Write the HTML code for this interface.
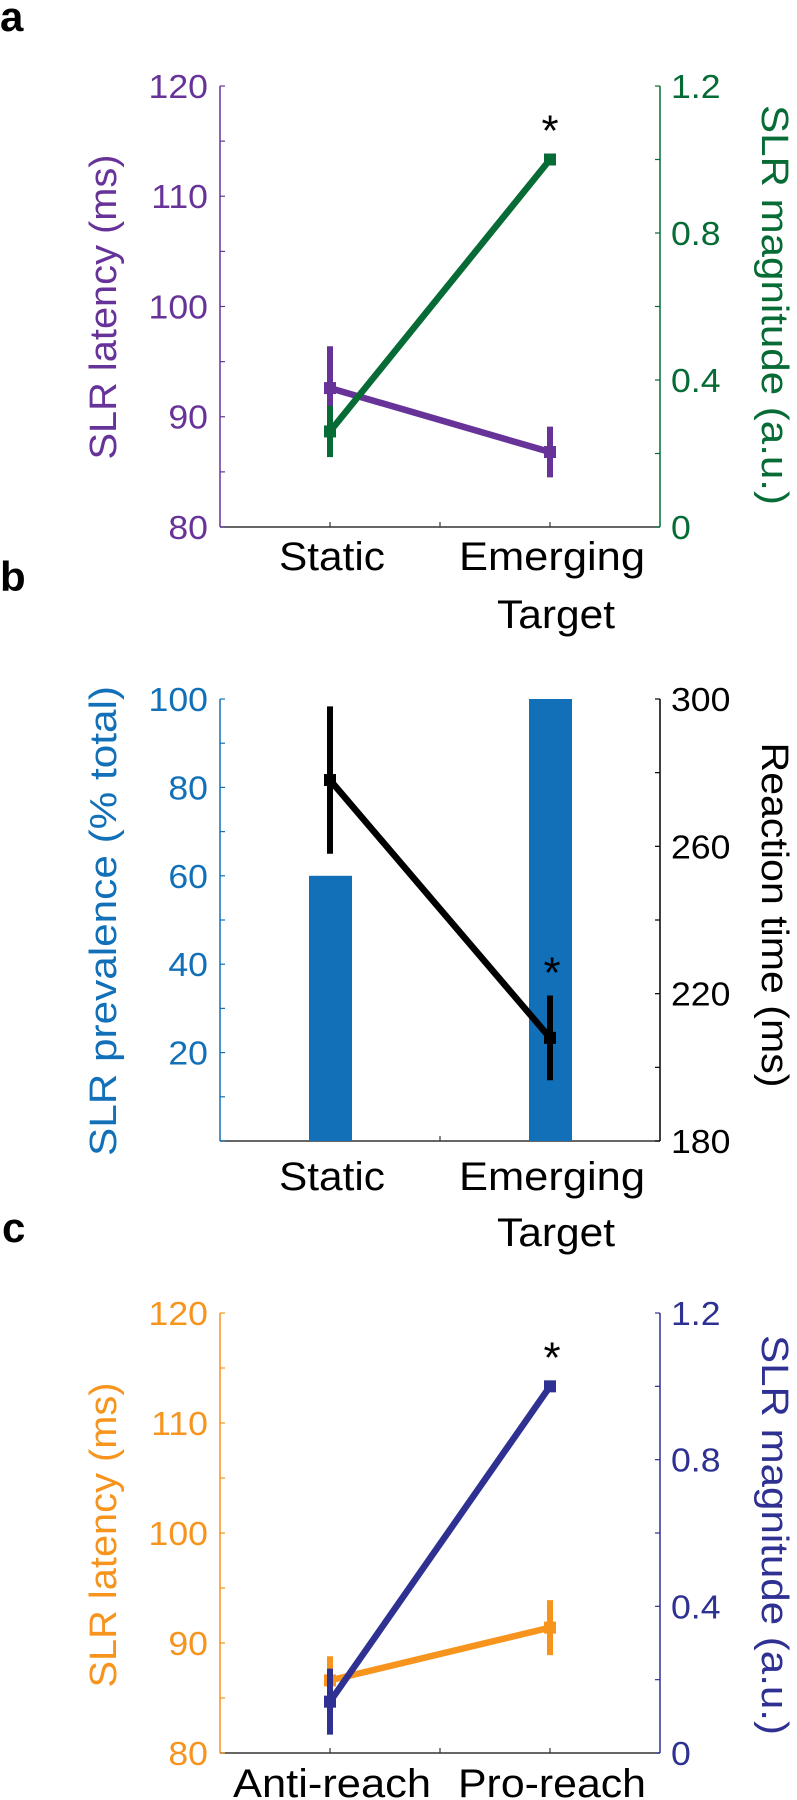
<!DOCTYPE html>
<html><head><meta charset="utf-8"><style>
html,body{margin:0;padding:0;background:#fff;}
svg{display:block;font-family:"Liberation Sans",sans-serif;}
</style></head><body>
<svg id="fig" width="797" height="1800" viewBox="0 0 797 1800" xmlns="http://www.w3.org/2000/svg">
<text x="0" y="31" font-size="42" font-weight="bold">a</text>
<text x="0" y="591" font-size="42" font-weight="bold">b</text>
<text x="2" y="1242" font-size="42" font-weight="bold">c</text>
</svg>
<script>
// ---- data ----
const catsAB = ["Static", "Emerging"];
const catsC = ["Anti-reach", "Pro-reach"];
const aLatency = [92.6, 86.8];
const aLatencyErr = [3.8, 2.3];
const aMagnitude = [0.26, 1.0];
const aMagnitudeErr = [0.07, 0.01];
const bPrevalence = [60, 100];
const bRT = [278, 208];
const bRTErr = [20, 11.5];
const cLatency = [86.6, 91.4];
const cLatencyErr = [2.2, 2.5];
const cMagnitude = [0.14, 1.0];
const cMagnitudeErr = [0.09, 0.01];
const latencyTicks = [80, 90, 100, 110, 120];
const magnitudeTicks = [0, 0.4, 0.8, 1.2];
const prevalenceTicks = [20, 40, 60, 80, 100];
const rtTicks = [180, 220, 260, 300];

const svg = document.getElementById('fig');
const NS = 'http://www.w3.org/2000/svg';
function mk(tag, attrs, parent) {
  const e = document.createElementNS(NS, tag);
  for (const k in attrs) e.setAttribute(k, attrs[k]);
  (parent || svg).appendChild(e);
  return e;
}
const X0 = 220, X1 = 660;
const xCat = i => 330 + i * 220;

function axes(top, bot, lMin, lMax, lMinor, lTicks, lCol, rMin, rMax, rMinor, rTicks, rCol, lTitle, rTitle, name) {
  const g = mk('g', {});
  
  
  const yl = v => bot - (v - lMin) / (lMax - lMin) * (bot - top);
  const yr = v => bot - (v - rMin) / (rMax - rMin) * (bot - top);
  mk('line', {x1: X0, y1: top, x2: X0, y2: bot, stroke: lCol, 'stroke-width': 1.5}, g);
  mk('line', {x1: X1, y1: top, x2: X1, y2: bot, stroke: rCol, 'stroke-width': 1.5}, g);
  mk('line', {x1: X0, y1: bot, x2: X1, y2: bot, stroke: '#333', 'stroke-width': 1.5}, g);
  [330, 440, 550].forEach(x => mk('line', {x1: x, y1: bot, x2: x, y2: bot - 5, stroke: '#333', 'stroke-width': 1.2}, g));
  for (let v = lMin; v <= lMax + 1e-9; v += lMinor) mk('line', {x1: X0, y1: yl(v), x2: X0 + 5, y2: yl(v), stroke: lCol, 'stroke-width': 1.2}, g);
  for (let v = rMin; v <= rMax + 1e-9; v += rMinor) mk('line', {x1: X1, y1: yr(v), x2: X1 - 5, y2: yr(v), stroke: rCol, 'stroke-width': 1.2}, g);
  lTicks.forEach(v => {
    const t = mk('text', {x: 208, y: yl(v) + 12, 'text-anchor': 'end', 'font-size': 33, fill: lCol, transform: `translate(208 0) scale(1.08 1) translate(-208 0)`}, g);
    t.textContent = v;
    
    
  });
  rTicks.forEach(v => {
    const t = mk('text', {x: 671, y: yr(v) + 12, 'font-size': 33, fill: rCol, transform: `translate(671 0) scale(1.08 1) translate(-671 0)`}, g);
    t.textContent = v;
    
    
  });
  const lt = mk('text', {x: 0, y: 0, 'text-anchor': 'middle', 'font-size': 38, fill: lCol, transform: `translate(116 ${lTitle[1]}) rotate(-90)`, textLength: lTitle[2], lengthAdjust: 'spacingAndGlyphs'}, g);
  lt.textContent = lTitle[0];
  
  
  const rt = mk('text', {x: 0, y: 0, 'text-anchor': 'middle', 'font-size': 38, fill: rCol, transform: `translate(762 ${rTitle[1]}) rotate(90)`, textLength: rTitle[2], lengthAdjust: 'spacingAndGlyphs'}, g);
  rt.textContent = rTitle[0];
  
  
  return {yl, yr};
}

function series(vals, errs, yf, col, name) {
  const g = mk('g', {});
  
  
  mk('line', {x1: xCat(0), y1: yf(vals[0]), x2: xCat(1), y2: yf(vals[1]), stroke: col, 'stroke-width': 6.5}, g);
  vals.forEach((v, i) => {
    mk('line', {x1: xCat(i), y1: yf(v + errs[i]), x2: xCat(i), y2: yf(v - errs[i]), stroke: col, 'stroke-width': 6}, g);
    mk('rect', {x: xCat(i) - 6, y: yf(v) - 6, width: 12, height: 12, fill: col}, g);
  });
}

function xlabels(cats, baseline, second, name) {
  cats.forEach((c, i) => {
    const t = mk('text', {x: xCat(i) + 2, y: baseline, 'text-anchor': 'middle', 'font-size': 40, fill: '#000', lengthAdjust: 'spacingAndGlyphs'});
    t.setAttribute('textLength', {Static: 106, Emerging: 186, 'Anti-reach': 198, 'Pro-reach': 188}[c]);
    t.textContent = c;
    
    
  });
  if (second) {
    const t = mk('text', {x: 556, y: second, 'text-anchor': 'middle', 'font-size': 40, fill: '#000', textLength: 118, lengthAdjust: 'spacingAndGlyphs'});
    t.textContent = 'Target';
    
    
  }
}
function star(x, y, name) {
  const t = mk('text', {x: x, y: y + 22, 'text-anchor': 'middle', 'font-size': 44, fill: '#000'});
  t.textContent = '*';
  
  
}

// Panel a
const PUR = '#673399', GRN = '#066b35';
const A = axes(86, 527, 80, 120, 5, latencyTicks, PUR, 0, 1.2, 0.2, magnitudeTicks, GRN,
  ['SLR latency (ms)', 307, 305], ['SLR magnitude (a.u.)', 305, 400], 'panel-a');
series(aLatency, aLatencyErr, A.yl, PUR, 'latency-series-a');
series(aMagnitude, aMagnitudeErr, A.yr, GRN, 'magnitude-series-a');
star(550, A.yr(aMagnitude[1]) - 36, 'significance-star-a');
xlabels(catsAB, 570, 628, 'panel-a');

// Panel b
const BLU = '#1170b8';
const B = axes(699, 1141, 0, 100, 10, prevalenceTicks, BLU, 180, 300, 20, rtTicks, '#000',
  ['SLR  prevalence (% total)', 921, 470], ['Reaction time (ms)', 915, 345], 'panel-b');
bPrevalence.forEach((v, i) => {
  const r = mk('rect', {x: xCat(i) - 21, y: B.yl(v), width: 43, height: B.yl(0) - B.yl(v), fill: BLU});
  
  
});
series(bRT, bRTErr, B.yr, '#000', 'reaction-time-series');
star(552, B.yr(bRT[1] + bRTErr[1]) - 30, 'significance-star-b');
xlabels(catsAB, 1190, 1246, 'panel-b');

// Panel c
const ORG = '#f7941d', NAV = '#2e3192';
const C = axes(1313, 1753, 80, 120, 5, latencyTicks, ORG, 0, 1.2, 0.2, magnitudeTicks, NAV,
  ['SLR latency (ms)', 1535, 305], ['SLR magnitude (a.u.)', 1535, 400], 'panel-c');
series(cLatency, cLatencyErr, C.yl, ORG, 'latency-series-c');
series(cMagnitude, cMagnitudeErr, C.yr, NAV, 'magnitude-series-c');
star(552, C.yr(cMagnitude[1]) - 36, 'significance-star-c');
xlabels(catsC, 1797, null, 'panel-c');
</script>
</body></html>
